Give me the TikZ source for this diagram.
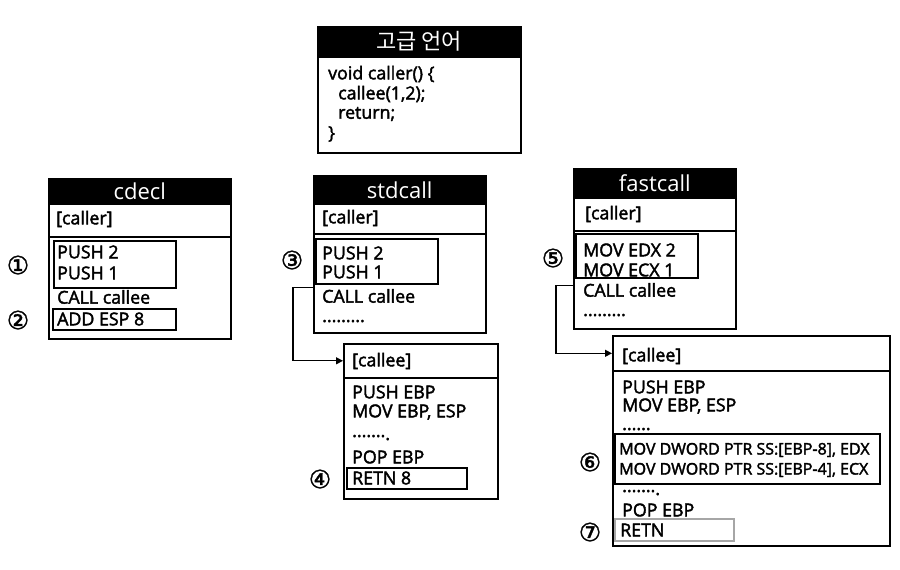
\documentclass[tikz,border=0pt]{standalone}
\usepackage{fontspec}
\setmainfont{Open Sans}[FakeBold=2.2]
\newfontfamily\headfont{Open Sans}
\newfontfamily\kr{Noto Sans CJK KR}
\newfontfamily\sym{DejaVu Sans}[FakeBold=1.5]
\usetikzlibrary{arrows.meta}

\begin{document}
\begin{tikzpicture}[x=1pt, y=-1pt, font=\fontsize{17.8}{20}\selectfont,
    head/.style = {draw, line width=1.5pt, fill=black, text=white, anchor=north west, inner sep=0, font=\headfont\fontsize{22}{24}\selectfont},
    frame/.style = {draw, line width=1.6pt, anchor=north west, inner sep=0},
    hl/.style = {draw, line width=2.4pt, anchor=north west, inner sep=0},
    txt/.style = {anchor=west, inner sep=0},
    dots/.style = {anchor=base west, inner sep=0, text height=3pt, text depth=0pt},
    num/.style = {font=\sym\fontsize{25}{25}\selectfont, inner sep=0},
    conn/.style = {line width=1.3pt, -{Triangle[length=7pt, width=7pt]}}]
    \useasboundingbox (0,0) rectangle (900,570);
    % high level code
    \node[head, minimum width=203pt, minimum height=30pt] (srcT) at (317,26) {\kr 고급 언어};
    \node[frame, minimum width=203pt, minimum height=96pt] (srcB) at (317,56) {};
    \node[txt] (s1) at (328,74) {void caller() \{};
    \node[txt] (s2) at (338,94) {callee(1,2);};
    \node[txt] (s3) at (338,114) {return;};
    \node[txt] (s4) at (328,134) {\}};
    % cdecl
    \node[head, minimum width=182pt, minimum height=25pt] (cdT) at (48,178) {cdecl};
    \node[frame, minimum width=182pt, minimum height=33pt] (cdR) at (48,203) {};
    \node[frame, minimum width=182pt, minimum height=102pt] (cdB) at (48,236) {};
    \node[txt] (cd0) at (56,219) {[caller]};
    \node[hl, minimum width=122pt, minimum height=47pt] (cdM1) at (53,240) {};
    \node[txt] (cd1) at (57,252) {PUSH 2};
    \node[txt] (cd2) at (57,273) {PUSH 1};
    \node[txt] (cd3) at (57,297) {CALL callee};
    \node[hl, minimum width=123pt, minimum height=21pt] (cdM2) at (52,308) {};
    \node[txt] (cd4) at (57,319) {ADD ESP 8};
    \node[num] (n1) at (18,265) {①};
    \node[num] (n2) at (18,320) {②};
    % stdcall
    \node[head, minimum width=172pt, minimum height=28pt] (stT) at (313,175) {stdcall};
    \node[frame, minimum width=172pt, minimum height=30pt] (stR) at (313,203) {};
    \node[frame, minimum width=172pt, minimum height=99pt] (stB) at (313,233) {};
    \node[txt] (st0) at (322,218) {[caller]};
    \node[hl, minimum width=122pt, minimum height=45pt] (stM) at (315,238) {};
    \node[txt] (st1) at (322,253) {PUSH 2};
    \node[txt] (st2) at (322,272) {PUSH 1};
    \node[txt] (st3) at (322,296) {CALL callee};
    \node[dots] (st4) at (322,322) {.........};
    \node[num] (n3) at (292,260) {③};
    \node[frame, minimum width=154pt, minimum height=34pt] (stCe) at (343,343) {};
    \node[frame, minimum width=154pt, minimum height=121pt] (stCB) at (343,377) {};
    \node[txt] (sc0) at (352,361) {[callee]};
    \node[txt] (sc1) at (352,392) {PUSH EBP};
    \node[txt] (sc2) at (352,412) {MOV EBP, ESP};
    \node[dots] (sc3) at (352,440) {\raisebox{3pt}{.......}.};
    \node[txt] (sc4) at (352,457) {POP EBP};
    \node[hl, minimum width=120pt, minimum height=21pt] (stM2) at (346,467) {};
    \node[txt] (sc5) at (352,478) {RETN 8};
    \node[num] (n4) at (320,479) {④};
    % fastcall
    \node[head, minimum width=162pt, minimum height=29pt] (fcT) at (573,168) {fastcall};
    \node[frame, minimum width=162pt, minimum height=33pt] (fcR) at (573,197) {};
    \node[frame, minimum width=162pt, minimum height=98pt] (fcB) at (573,230) {};
    \node[txt] (fc0) at (585,214) {[caller]};
    \node[hl, minimum width=122pt, minimum height=44pt] (fcM) at (575,233) {};
    \node[txt] (fc1) at (583,250) {MOV EDX 2};
    \node[txt] (fc2) at (583,270) {MOV ECX 1};
    \node[txt] (fc3) at (583,290) {CALL callee};
    \node[dots] (fc4) at (583,316) {.........};
    \node[num] (n5) at (553,258) {⑤};
    \node[frame, minimum width=277pt, minimum height=35pt] (fcCe) at (612,335) {};
    \node[frame, minimum width=277pt, minimum height=175pt] (fcCB) at (612,370) {};
    \node[txt] (fe0) at (622,356) {[callee]};
    \node[txt] (fe1) at (622,387) {PUSH EBP};
    \node[txt] (fe2) at (622,406) {MOV EBP, ESP};
    \node[dots] (fe3) at (622,430) {......};
    \node[hl, minimum width=265pt, minimum height=50pt] (fcM2) at (614,433) {};
    \node[txt, font=\fontsize{16}{18}\selectfont] (fe4) at (619,450) {MOV DWORD PTR SS:[EBP-8], EDX};
    \node[txt, font=\fontsize{16}{18}\selectfont] (fe5) at (619,470) {MOV DWORD PTR SS:[EBP-4], ECX};
    \node[dots] (fe6) at (622,495) {\raisebox{3pt}{.......}.};
    \node[txt] (fe7) at (622,510) {POP EBP};
    \node[hl, draw=gray!70, minimum width=119pt, minimum height=22pt] (fcM3) at (614,518) {};
    \node[txt] (fe8) at (620,530) {RETN};
    \node[num] (n6) at (590,462) {⑥};
    \node[num] (n7) at (590,532) {⑦};
    % calls
    \draw[conn] (stM.south -| stB.west) ++(0,2) -- ++(-20,0) |- (stCe.west);
    \draw[conn] (fcM.south -| fcB.west) ++(0,6) -- ++(-17,0) |- (fcCe.west);
\end{tikzpicture}
\end{document}
